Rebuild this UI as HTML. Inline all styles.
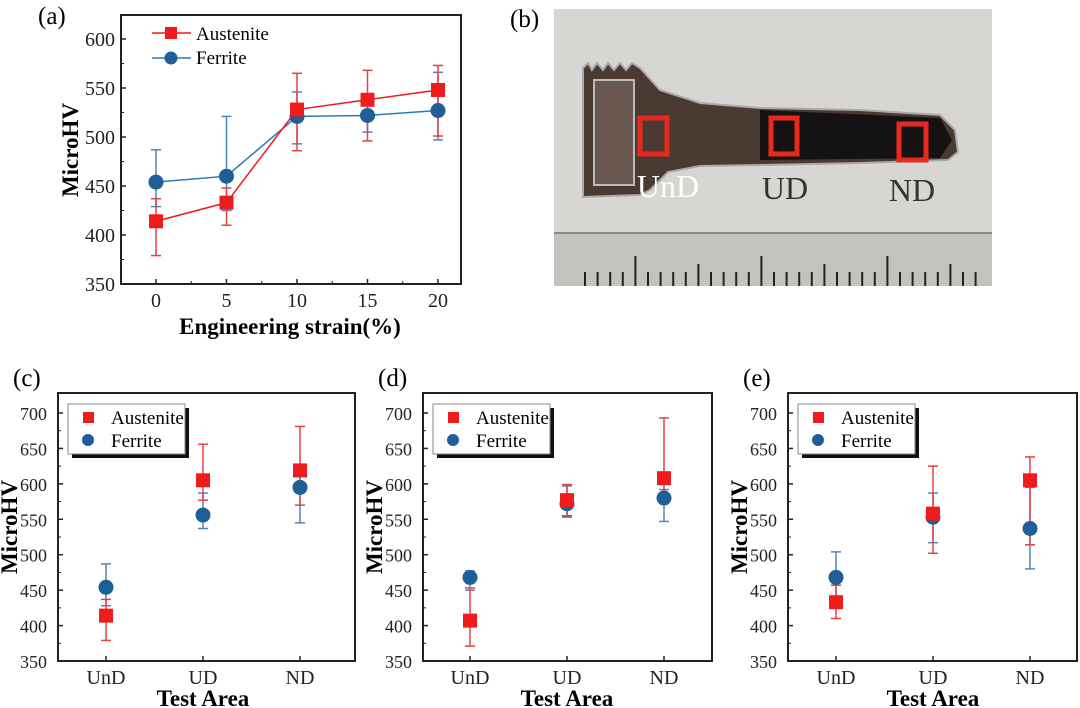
<!DOCTYPE html>
<html><head><meta charset="utf-8"><style>
body{margin:0;background:#fff;}
svg{display:block;font-family:"Liberation Serif",serif;}
</style></head><body>
<svg id="fig" width="1080" height="708" viewBox="0 0 1080 708">
  <g id="photo">
    <rect x="554" y="9" width="438" height="277" fill="#d8d6d2"/>
    <rect x="554" y="233" width="438" height="53" fill="#c4c2bd"/>
    <line x1="554" y1="233" x2="992" y2="233" stroke="#8a8884" stroke-width="2"/>
    <g id="ruler-ticks" stroke="#222" stroke-width="2"></g>
    <path d="M583,68 L588,63 L592,70 L597,63 L603,70 L608,63 L614,70 L620,63 L626,70 L632,63 L640,68 L660,90 L700,103 L760,108 L860,110 L940,115 L955,130 L958,152 L948,160 L860,163 L760,165 L700,166 L668,172 L650,190 L640,195 L583,197 Z" fill="#4a3a32" stroke="#aaa" stroke-width="2"/>
    <path d="M760,110 L940,118 L952,140 L940,158 L760,160 Z" fill="#141212"/>
    <rect x="594" y="80" width="40" height="105" fill="#6a5850" stroke="#bbb" stroke-width="2"/>
    <rect x="640" y="118" width="27" height="36" fill="none" stroke="#e8291e" stroke-width="5"/>
    <rect x="771" y="118" width="26" height="36" fill="none" stroke="#e8291e" stroke-width="5"/>
    <rect x="899" y="124" width="27" height="36" fill="none" stroke="#e8291e" stroke-width="5"/>
    <text x="668" y="197" font-size="32" fill="#fff" text-anchor="middle">UnD</text>
    <text x="785" y="199" font-size="32" fill="#333" text-anchor="middle">UD</text>
    <text x="912" y="201" font-size="32" fill="#333" text-anchor="middle">ND</text>
  </g>
  <text x="510" y="27" font-size="25">(b)</text>
</svg>
<script>
const NS="http://www.w3.org/2000/svg";
const svg=document.getElementById('fig');
function mk(tag,attrs,parent){const e=document.createElementNS(NS,tag);for(const k in attrs)e.setAttribute(k,attrs[k]);(parent||svg).appendChild(e);return e;}

// ruler ticks
const rt=document.getElementById('ruler-ticks');
for(let i=0;i<32;i++){const x=585+i*12.6;const L=i%10==4?30:(i%5==4?22:14);
const t=mk('line',{x1:x,y1:286-L,x2:x,y2:286},rt);

}

// ---- Panel (a) data ----
const strainCats=[0,5,10,15,20];
const austA=[414,433,528,538,548];
const austALo=[379,410,486,496,501];
const austAHi=[437,448,565,568,573];
const ferA=[454,460,521,522,527];
const ferALo=[429,425,493,505,497];
const ferAHi=[487,521,546,544,566];
const yTicksA=[350,400,450,500,550,600];
const xTicksA=[0,5,10,15,20];

// ---- Panels (c)(d)(e) data ----
const areaCats=["UnD","UD","ND"];
const yTicksB=[350,400,450,500,550,600,650,700];
const austC=[414,605,619], austCLo=[379,577,570], austCHi=[437,656,681];
const ferC=[454,556,595], ferCLo=[428,537,545], ferCHi=[487,587,615];
const austD=[407,577,608], austDLo=[371,555,582], austDHi=[453,599,693];
const ferD=[468,572,580], ferDLo=[450,553,547], ferDHi=[477,597,592];
const austE=[433,558,605], austELo=[410,502,514], austEHi=[457,625,638];
const ferE=[468,553,537], ferELo=[433,517,480], ferEHi=[504,587,595];

const RED="#ee1c1c", BLUE="#1f5f98", BLUEERR="#4f86b8", REDERR="#e84040";

function errbars(g,xs,lo,hi,X,Y,col,name){
  xs.forEach((c,i)=>{const x=X(c);
    const l=mk('line',{x1:x,x2:x,y1:Y(lo[i]),y2:Y(hi[i]),stroke:col,'stroke-width':1.5},g);
    
    
    [lo[i],hi[i]].forEach(v=>{const cap=mk('line',{x1:x-5,x2:x+5,y1:Y(v),y2:Y(v),stroke:col,'stroke-width':1.5},g);
      
      });
  });
}
function squares(g,xs,vals,X,Y,name){xs.forEach((c,i)=>{const r=mk('rect',{x:X(c)-7,y:Y(vals[i])-7,width:14,height:14,fill:RED},g);
  
  });}
function circles(g,xs,vals,X,Y,name){xs.forEach((c,i)=>{const r=mk('circle',{cx:X(c),cy:Y(vals[i]),r:7.5,fill:BLUE},g);
  
  });}
function axesFrame(g,L,T,R,B,yTicks,Y,minorStep,fs,off){
  const f=mk('rect',{x:L,y:T,width:R-L,height:B-T,fill:'none',stroke:'#222','stroke-width':2},g);
  
  
  yTicks.forEach(v=>{mk('line',{x1:L,x2:L+5,y1:Y(v),y2:Y(v),stroke:'#222','stroke-width':1.5},g);
    const t=mk('text',{x:L-off,y:Y(v)+7,'font-size':fs,'text-anchor':'end',fill:'#222'},g);t.textContent=v;
    
    
    const mv=v+minorStep; if(mv<yTicks[yTicks.length-1]) mk('line',{x1:L,x2:L+3,y1:Y(mv),y2:Y(mv),stroke:'#222','stroke-width':1},g);
  });
}

// ---- Panel (a) ----
(function(){
  const L=121,T=15,R=461,B=284;
  const Y=v=>284-(v-350)*0.98; const X=c=>156+(c)*14.1;
  const g=mk('g',{});
  
  
  axesFrame(g,L,T,R,B,yTicksA,Y,25,20,6);
  xTicksA.forEach((c,i)=>{mk('line',{x1:X(c),x2:X(c),y1:B,y2:B-5,stroke:'#222','stroke-width':1.5},g);
    if(i<xTicksA.length-1) mk('line',{x1:X(c+2.5),x2:X(c+2.5),y1:B,y2:B-3,stroke:'#222','stroke-width':1},g);
    const t=mk('text',{x:X(c),y:307,'font-size':20,'text-anchor':'middle',fill:'#222'},g);t.textContent=c;
    
    });
  errbars(g,strainCats,ferALo,ferAHi,X,Y,BLUEERR,'ferrite');
  errbars(g,strainCats,austALo,austAHi,X,Y,REDERR,'austenite');
  const pf=mk('polyline',{points:strainCats.map((c,i)=>X(c)+','+Y(ferA[i])).join(' '),fill:'none',stroke:'#2a7ab0','stroke-width':1.5},g);
  
  
  const pa=mk('polyline',{points:strainCats.map((c,i)=>X(c)+','+Y(austA[i])).join(' '),fill:'none',stroke:RED,'stroke-width':1.5},g);
  
  
  circles(g,strainCats,ferA,X,Y,'ferrite');
  squares(g,strainCats,austA,X,Y,'austenite');
  const lg=mk('g',{},g);
  
  
  mk('line',{x1:152,x2:191,y1:33,y2:33,stroke:RED,'stroke-width':1.5},lg);
  mk('rect',{x:165,y:27,width:12,height:12,fill:RED},lg);
  mk('line',{x1:152,x2:191,y1:58,y2:58,stroke:'#2a7ab0','stroke-width':1.5},lg);
  mk('circle',{cx:171,cy:58,r:6.5,fill:BLUE},lg);
  let t=mk('text',{x:196,y:40,'font-size':19},lg);t.textContent='Austenite';
  t=mk('text',{x:196,y:64,'font-size':19},lg);t.textContent='Ferrite';
  t=mk('text',{x:290,y:334,'font-size':23,'font-weight':'bold','text-anchor':'middle'},g);t.textContent='Engineering strain(%)';
  
  
  t=mk('text',{x:0,y:0,'font-size':23,'font-weight':'bold','text-anchor':'middle',transform:'translate(78,150) rotate(-90)'},g);t.textContent='MicroHV';
  
  
  t=mk('text',{x:38,y:24,'font-size':25},g);t.textContent='(a)';
  
  
})();

// ---- Panels (c)(d)(e) ----
function areaPanel(label,L,R,x0,aust,aLo,aHi,fer,fLo,fHi){
  const T=393,B=661;
  const Y=v=>661-(v-350)*(248/350); const X=i=>x0+i*97;
  const idx=[0,1,2];
  const g=mk('g',{});
  
  
  axesFrame(g,L,T,R,B,yTicksB,Y,25,18,11);
  areaCats.forEach((c,i)=>{mk('line',{x1:X(i),x2:X(i),y1:B,y2:B-5,stroke:'#222','stroke-width':1.5},g);
    const t=mk('text',{x:X(i),y:684,'font-size':20,'text-anchor':'middle',fill:'#222'},g);t.textContent=c;
    
    });
  errbars(g,idx,fLo,fHi,X,Y,BLUEERR,'ferrite');
  errbars(g,idx,aLo,aHi,X,Y,REDERR,'austenite');
  circles(g,idx,fer,X,Y,'ferrite');
  squares(g,idx,aust,X,Y,'austenite');
  const lg=mk('g',{},g);
  
  
  const lx=L+10,ly=404;
  mk('rect',{x:lx+4,y:ly+4,width:117,height:50,fill:'#111'},lg);
  mk('rect',{x:lx,y:ly,width:117,height:50,fill:'#fff',stroke:'#888','stroke-width':1},lg);
  mk('rect',{x:lx+15,y:ly+8,width:11,height:11,fill:RED},lg);
  mk('circle',{cx:lx+20,cy:ly+36,r:6,fill:BLUE},lg);
  let t=mk('text',{x:lx+43,y:ly+20,'font-size':19},lg);t.textContent='Austenite';
  t=mk('text',{x:lx+43,y:ly+43,'font-size':19},lg);t.textContent='Ferrite';
  t=mk('text',{x:x0+97,y:706,'font-size':23,'font-weight':'bold','text-anchor':'middle'},g);t.textContent='Test Area';
  
  
  t=mk('text',{x:0,y:0,'font-size':23,'font-weight':'bold','text-anchor':'middle',transform:'translate('+(L-41)+',527) rotate(-90)'},g);t.textContent='MicroHV';
  
  
  t=mk('text',{x:L-45,y:386,'font-size':25},g);t.textContent='('+label+')';
  
  
}
areaPanel('c',58,355,106,austC,austCLo,austCHi,ferC,ferCLo,ferCHi);
areaPanel('d',423,712,470,austD,austDLo,austDHi,ferD,ferDLo,ferDHi);
areaPanel('e',788,1077,836,austE,austELo,austEHi,ferE,ferELo,ferEHi);
</script>
</body></html>
